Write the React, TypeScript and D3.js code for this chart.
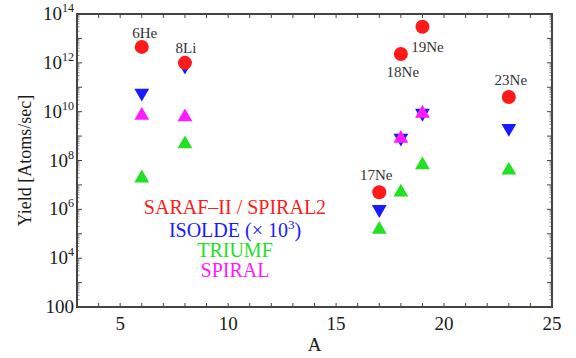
import React from 'react';
import * as d3 from 'd3';

// mass number A of each isotope
const massNumbers = [6, 8, 17, 18, 19, 23];
const isotopes = ['6He', '8Li', '17Ne', '18Ne', '19Ne', '23Ne'];
// yields in atoms/sec
const sarafYield = [4.5e12, 1e12, 5e6, 2.3e12, 3e13, 4e10];
const isoldeYield = [5.8e10, 7.5e11, 1e6, 8.3e8, 8.7e9, 2.1e9];
const triumfYield = [1.9e7, 4.7e8, 1.5e5, 5e6, 6.5e7, 4e7];
const spiralYield: (number | null)[] = [7e9, 6e9, null, 8e8, 8.5e9, null];

const xTicks = [5, 10, 15, 20, 25];
const yTickExps = [2, 4, 6, 8, 10, 12, 14];
const legendItems = ['SARAF\u2013II / SPIRAL2', 'ISOLDE', 'TRIUMF', 'SPIRAL'];

// label offsets from the red marker
const labelOffsets: [number, number][] = [
  [3, -9], [1, -10], [-3, -12], [2, 23], [5, 25], [2, -12],
];

const W = 576;
const H = 358;
const margin = { top: 14, right: 24, bottom: 51, left: 77 };
const red = '#ff1a1a';
const blue = '#1a1aff';
const green = '#22e022';
const magenta = '#ff1aff';
const axisColor = '#444';
const serif = '"Liberation Serif", "DejaVu Serif", serif';

export default function App() {
  const x = d3.scaleLinear().domain([3, 25]).range([margin.left, W - margin.right]);
  const y = d3.scaleLog().domain([1e2, 1e14]).range([H - margin.bottom, margin.top]);
  const [x0, x1] = x.range();
  const [y0, y1] = y.range();

  const tri = d3.symbol().type(d3.symbolTriangle).size(95)()!;

  const xMinor = d3.range(4, 25);
  const yMajor = d3.range(2, 15).map((e) => Math.pow(10, e));
  const yMinor: number[] = [];
  for (let e = 2; e < 14; e++) for (let k = 2; k < 10; k++) yMinor.push(k * Math.pow(10, e));

  const legendColors = [red, blue, green, magenta];
  const legendY = [207, 230, 250, 270];

  return (
    <svg width={W} height={H} style={{ position: 'absolute', left: 0, top: 0, background: '#fff' }}>
      {/* ticks, inward on all four sides */}
      <g stroke={axisColor} strokeWidth={1}>
        {xMinor.map((v) => (
          <g key={'xt' + v}>
            <line x1={x(v)} x2={x(v)} y1={y0} y2={y0 - 4} />
            <line x1={x(v)} x2={x(v)} y1={y1} y2={y1 + 4} />
          </g>
        ))}
        {yMajor.map((v) => (
          <g key={'yM' + v}>
            <line x1={x0} x2={x0 + 5} y1={y(v)} y2={y(v)} />
            <line x1={x1} x2={x1 - 5} y1={y(v)} y2={y(v)} />
          </g>
        ))}
        {yMinor.map((v) => (
          <g key={'ym' + v}>
            <line x1={x0} x2={x0 + 2.5} y1={y(v)} y2={y(v)} strokeWidth={0.6} />
            <line x1={x1} x2={x1 - 2.5} y1={y(v)} y2={y(v)} strokeWidth={0.6} />
          </g>
        ))}
      </g>
      <rect x={x0} y={y1} width={x1 - x0} height={y0 - y1} fill="none" stroke={axisColor} strokeWidth={2} />

      {/* tick labels */}
      <g fontFamily={serif} fill="#1a1a1a">
        {xTicks.map((v) => (
          <text key={'xl' + v} x={x(v)} y={y0 + 23} fontSize={19} textAnchor="middle">{v}</text>
        ))}
        {yTickExps.map((e) => (
          <text key={'yl' + e} x={x0 - 3} y={y(Math.pow(10, e)) + 6} fontSize={19} textAnchor="end">
            {e === 2 ? '100' : (
              <>
                10<tspan fontSize={12} dy={-8}>{e}</tspan>
              </>
            )}
          </text>
        ))}
        <text x={(x0 + x1) / 2} y={351} fontSize={19} textAnchor="middle">A</text>
        <text transform={`translate(31,${(y0 + y1) / 2}) rotate(-90)`} fontSize={18} textAnchor="middle">
          Yield [Atoms/sec]
        </text>
      </g>

      {/* markers */}
      {massNumbers.map((a, i) => (
        <g key={'p' + a}>
          <path d={tri} transform={`translate(${x(a)},${y(triumfYield[i])})`} fill={green} />
          <path d={tri} transform={`translate(${x(a)},${y(isoldeYield[i])}) rotate(180)`} fill={blue} />
          {spiralYield[i] !== null && (
            <path d={tri} transform={`translate(${x(a)},${y(spiralYield[i] as number)})`} fill={magenta} />
          )}
          <circle cx={x(a)} cy={y(sarafYield[i])} r={7} fill={red} />
          <text
            x={x(a) + labelOffsets[i][0]}
            y={y(sarafYield[i]) + labelOffsets[i][1]}
            fontFamily={serif}
            fontSize={15}
            fill="#333"
            textAnchor="middle"
          >
            {isotopes[i]}
          </text>
        </g>
      ))}

      {/* legend text */}
      <g fontFamily={serif} fontSize={20} textAnchor="middle">
        {legendItems.map((t, i) => (
          <text key={t} x={235} y={legendY[i] + 7} fill={legendColors[i]}>
            {t}
            {i === 1 && (
              <>
                {' (\u00d7 10'}
                <tspan fontSize={13} dy={-8}>3</tspan>
                <tspan dy={8}>)</tspan>
              </>
            )}
          </text>
        ))}
      </g>
    </svg>
  );
}
